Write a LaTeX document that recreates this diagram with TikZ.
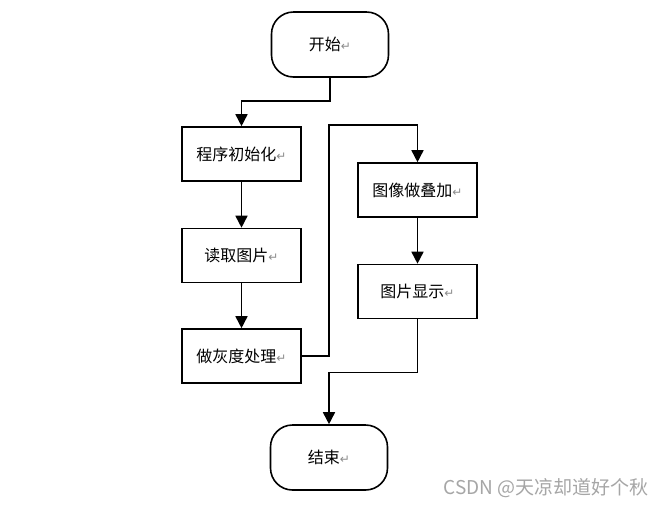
\documentclass[tikz,border=0pt]{standalone}
\usepackage{fontspec}
\setmainfont{Noto Sans CJK SC}
\newfontfamily\dejavu{DejaVu Sans}
\usetikzlibrary{arrows.meta}
\newcommand{\retmark}{{\color{black!45}\dejavu\fontsize{12pt}{12pt}\selectfont ↵}}
\begin{document}
\begin{tikzpicture}[x=1pt,y=-1pt,
  box/.style={draw=black,line width=1.6pt,minimum width=119pt,minimum height=54pt,inner sep=0pt,
    font=\fontsize{16pt}{16pt}\selectfont},
  term/.style={box,minimum width=117pt,minimum height=65pt,rounded corners=22pt},
  arr/.style={draw=black,line width=1.6pt,-{Triangle[width=12pt,length=12pt]}}]
\useasboundingbox[fill=white] (0,0) rectangle (664,507);
\node[term] (n1) at (330,44.5) {开始\retmark};
\node[box] (n2) at (241.5,154) {程序初始化\retmark};
\node[box] (n3) at (241.5,255.5) {读取图片\retmark};
\node[box] (n4) at (241.5,356) {做灰度处理\retmark};
\node[box] (n5) at (417.5,190) {图像做叠加\retmark};
\node[box] (n6) at (417.5,291.5) {图片显示\retmark};
\node[term] (n7) at (329,457.5) {结束\retmark};
\coordinate (c1) at (329,125);
\draw[arr] (n1.south) -- ++(0,23) -| (n2.north);
\draw[arr] (n2.south) -- (n3.north);
\draw[arr] (n3.south) -- (n4.north);
\draw[arr] (n4.east) -| (c1) -| (n5.north);
\draw[arr] (n5.south) -- (n6.north);
\draw[arr] (n6.south) -- ++(0,53) -| (n7.north);
\node[anchor=east,text=black!35,font=\fontsize{19pt}{19pt}\selectfont,inner sep=0pt] (wm) at (649,488) {CSDN @天凉却道好个秋};
\end{tikzpicture}
\end{document}
